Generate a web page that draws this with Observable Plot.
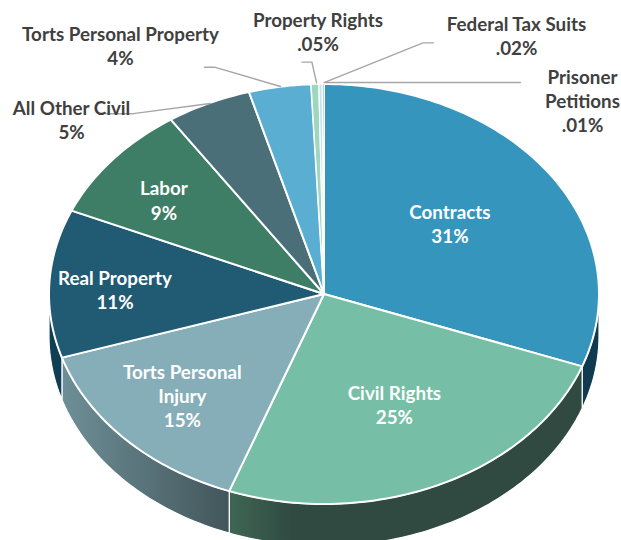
<!DOCTYPE html>
<html><head><meta charset="utf-8">
<script src="https://cdn.jsdelivr.net/npm/d3@7"></script>
<script src="https://cdn.jsdelivr.net/npm/@observablehq/plot@0.6"></script>
<style>html,body{margin:0;padding:0;background:#fff}svg{display:block}</style>
</head><body><div id="chart"></div>
<script>
// Data: slice shares as drawn, in clockwise order from 12 o'clock
const categories = ["Contracts","Civil Rights","Torts Personal Injury","Real Property","Labor","All Other Civil","Torts Personal Property","Property Rights","Federal Tax Suits","Prisoner Petitions"];
const shares = [30.6,25,14.5,11.4,9.1,5,3.65,0.45,0.2,0.1];
const percentLabels = ["31%","25%","15%","11%","9%","5%","4%",".05%",".02%",".01%"];
const topColors = ["#3595BD","#76BEA6","#86AEB8","#205B73","#3E7D66","#4A6F79","#5AAED2","#9FD6C0","#C4E3EC","#3595BD"];

// Layout, in chart units (1 unit = one pie radius)
const depth = 0.2;
const labelLines = [["Contracts"],["Civil Rights"],["Torts Personal","Injury"],["Real Property"],["Labor"],["All Other Civil"],["Torts Personal Property"],["Property Rights"],["Federal Tax Suits"],["Prisoner","Petitions"]];
const labelX = [0.458,0.256,-0.515,-0.76,-0.582,-0.918,-0.74,-0.022,0.7,0.94];
const labelY = [0.338,-0.526,-0.483,0.024,0.449,0.834,1.184,1.252,1.234,0.922];
const inkColor = [0,0,0,0,0,1,1,1,1,1];
const leaders = [
  {slice:5, pts:[[-0.794,0.858],[-0.70,0.858],[-0.414,0.907]]},
  {slice:6, pts:[[-0.4345,1.08],[-0.398,1.08],[-0.158,0.988]]},
  {slice:7, pts:[[-0.08,1.104],[-0.044,1.104],[-0.027,1.005]]},
  {slice:8, pts:[[0.398,1.196],[0.36,1.196],[0,1.007]]},
  {slice:9, pts:[[0.7145,1.007],[0.005,1.007]]}
];

const pie = d3.pie().value(d => d).sort(null)(shares);
const arcPts = (a0, a1, dy = 0) => {
  const n = Math.max(2, Math.ceil((a1 - a0) / 0.02));
  return d3.range(n + 1).map(i => { const a = a0 + (a1 - a0) * i / n; return [Math.sin(a), Math.cos(a) - dy]; });
};
const lineOf = (pts, o) => Plot.line(pts, {x: d => d[0], y: d => d[1], curve: "linear", ...o});

// Visible walls: from 3 o'clock round the front to 9 o'clock
const wallFill = ["#0F3A4F","url(#wallCivil)","url(#wallInjury)","#0F3F54"];
const walls = [];
pie.slice(0, 4).forEach((s, i) => {
  const a0 = Math.max(s.startAngle, Math.PI / 2), a1 = Math.min(s.endAngle, 3 * Math.PI / 2);
  const pts = [...arcPts(a0, a1), ...arcPts(a0, a1, depth).reverse()];
  pts.push(pts[0]);
  walls.push(lineOf(pts, {fill: wallFill[i], stroke: "#fff", strokeWidth: 1.2}));
});

const tops = pie.map((s, i) => {
  const pts = [[0, 0], ...arcPts(s.startAngle, s.endAngle), [0, 0]];
  return lineOf(pts, {fill: topColors[i], stroke: "#fff", strokeWidth: i < 7 ? 2 : 1.2, strokeLinejoin: "round"});
});

const defs = () => {
  const ns = "http://www.w3.org/2000/svg";
  const d = document.createElementNS(ns, "defs");
  const grad = (id, stops) => {
    const g = document.createElementNS(ns, "linearGradient"); g.setAttribute("id", id);
    stops.forEach(([o, c]) => { const s = document.createElementNS(ns, "stop"); s.setAttribute("offset", o); s.setAttribute("stop-color", c); g.appendChild(s); });
    d.appendChild(g);
  };
  grad("wallInjury", [[0, "#6E8F97"], [1, "#42565B"]]);
  grad("wallCivil", [[0, "#3F6653"], [0.18, "#304A42"], [1, "#304A42"]]);
  return d;
};

const textRows = categories.map((c, i) => ({text: [...labelLines[i], percentLabels[i]].join("\n"), x: labelX[i], y: labelY[i], ink: inkColor[i]}));
const textStyle = {x: "x", y: "y", text: "text", fontWeight: 700, fontSize: 18.8, fontFamily: "Lato", lineHeight: 1.29};

const plot = Plot.plot({
  width: 621, height: 540, margin: 0,
  x: {domain: [-1, 1], range: [48.5, 598.5], axis: null},
  y: {domain: [-1, 1], range: [503.5, 83.5], axis: null},
  marks: [
    defs,
    ...walls,
    ...tops,
    ...leaders.map(l => lineOf(l.pts, {stroke: "#A6A6A6", strokeWidth: 1.4})),
    Plot.text(textRows.filter(d => !d.ink), {...textStyle, fill: "#fff"}),
    Plot.text(textRows.filter(d => d.ink), {...textStyle, fill: "#404040"})
  ]
});
document.getElementById("chart").appendChild(plot);
</script></body></html>
